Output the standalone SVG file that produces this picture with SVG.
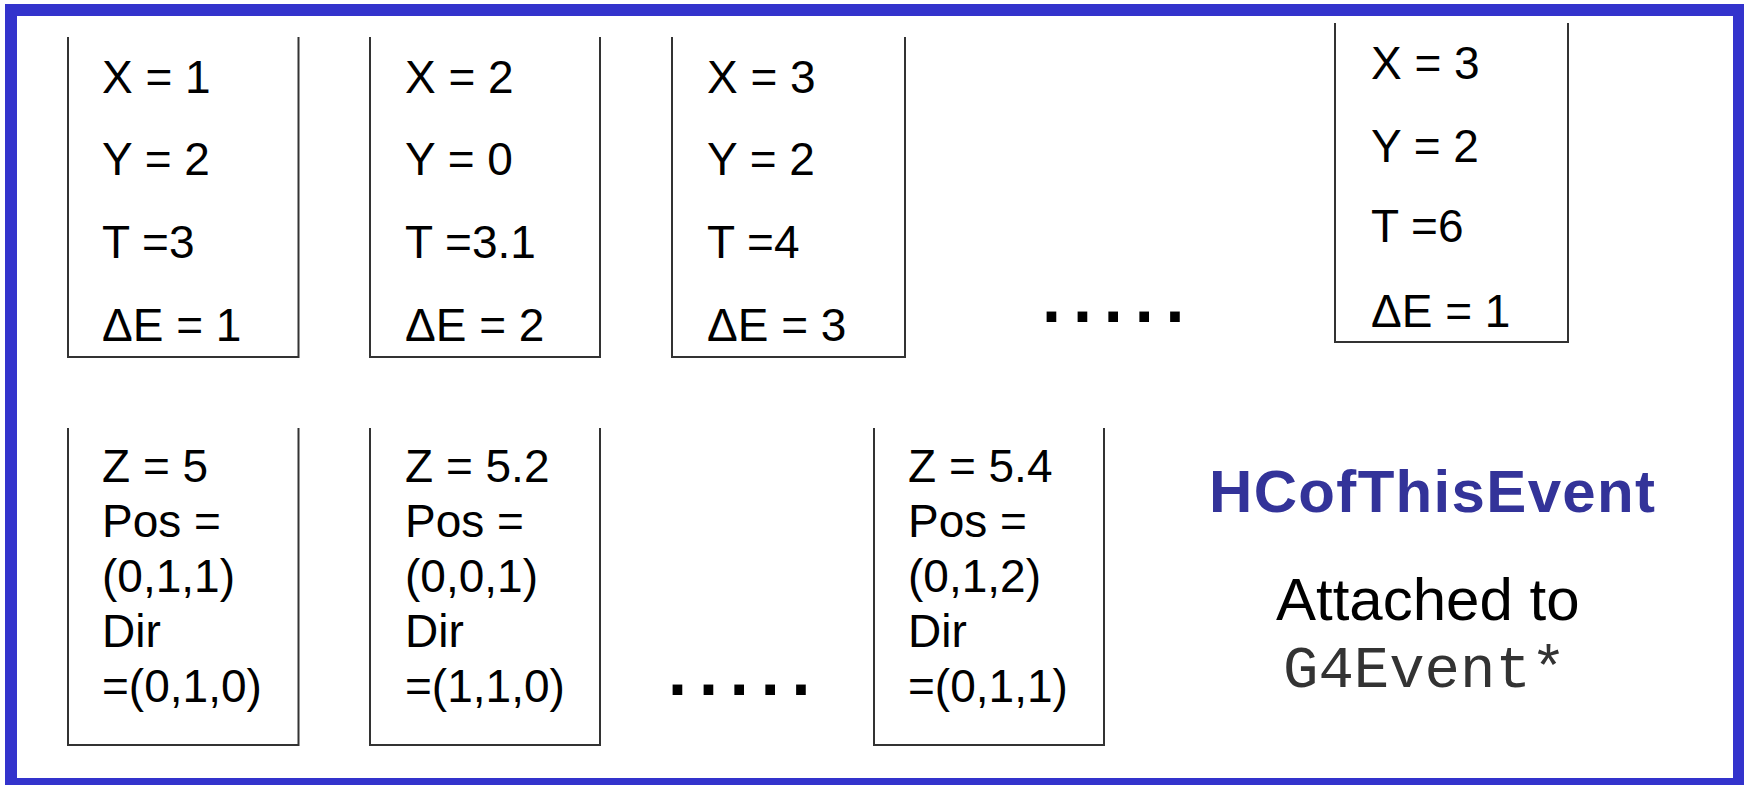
<svg xmlns="http://www.w3.org/2000/svg" width="1744" height="785" viewBox="0 0 1744 785">
<style>
.frame{fill:#ffffff;stroke:#3333cc;stroke-width:12}
.box{fill:none;stroke:#333333;stroke-width:2}
.t{font-family:"Liberation Sans",Arial,sans-serif;font-size:46px;fill:#000}
.dots{font-family:"DejaVu Sans",sans-serif;font-weight:bold;font-size:55px;letter-spacing:10px;fill:#000}
.title{font-family:"Liberation Sans",Arial,sans-serif;font-weight:bold;font-size:60px;fill:#333399}
.att{font-family:"Liberation Sans",Arial,sans-serif;font-size:60px;fill:#000}
.mono{font-family:"Liberation Mono","Courier New",monospace;font-size:59px;fill:#333}
</style>
<rect class="frame" x="11" y="10" width="1728" height="774"/>
<g id="hit1">
<path class="box" d="M68,37 V357 H298.5 V37"/>
<text class="t" x="102" y="93">X = 1</text>
<text class="t" x="102" y="175">Y = 2</text>
<text class="t" x="102" y="258">T =3</text>
<text class="t" x="102" y="341">ΔE = 1</text>
</g>
<g id="hit2">
<path class="box" d="M370,37 V357 H600 V37"/>
<text class="t" x="405" y="93">X = 2</text>
<text class="t" x="405" y="175">Y = 0</text>
<text class="t" x="405" y="258">T =3.1</text>
<text class="t" x="405" y="341">ΔE = 2</text>
</g>
<g id="hit3">
<path class="box" d="M672,37 V357 H905 V37"/>
<text class="t" x="707" y="93">X = 3</text>
<text class="t" x="707" y="175">Y = 2</text>
<text class="t" x="707" y="258">T =4</text>
<text class="t" x="707" y="341">ΔE = 3</text>
</g>
<g id="dots-top"><text class="dots" x="1041" y="322">.....</text></g>
<g id="hit4">
<path class="box" d="M1335,23 V342 H1568 V23"/>
<text class="t" x="1371" y="79">X = 3</text>
<text class="t" x="1371" y="162">Y = 2</text>
<text class="t" x="1371" y="242">T =6</text>
<text class="t" x="1371" y="327">ΔE = 1</text>
</g>
<g id="hit5">
<path class="box" d="M68,428 V745 H298.5 V428"/>
<text class="t" x="102" y="482">Z = 5</text>
<text class="t" x="102" y="537">Pos =</text>
<text class="t" x="102" y="592">(0,1,1)</text>
<text class="t" x="102" y="647">Dir</text>
<text class="t" x="102" y="702">=(0,1,0)</text>
</g>
<g id="hit6">
<path class="box" d="M370,428 V745 H600 V428"/>
<text class="t" x="405" y="482">Z = 5.2</text>
<text class="t" x="405" y="537">Pos =</text>
<text class="t" x="405" y="592">(0,0,1)</text>
<text class="t" x="405" y="647">Dir</text>
<text class="t" x="405" y="702">=(1,1,0)</text>
</g>
<g id="dots-bottom"><text class="dots" x="667" y="695">.....</text></g>
<g id="hit7">
<path class="box" d="M874,428 V745 H1104 V428"/>
<text class="t" x="908" y="482">Z = 5.4</text>
<text class="t" x="908" y="537">Pos =</text>
<text class="t" x="908" y="592">(0,1,2)</text>
<text class="t" x="908" y="647">Dir</text>
<text class="t" x="908" y="702">=(0,1,1)</text>
</g>
<g id="label">
<text class="title" x="1209" y="512" textLength="446">HCofThisEvent</text>
<text class="att" x="1276" y="620">Attached to</text>
<text class="mono" x="1283" y="687">G4Event*</text>
</g>
<g id="connectors"/>
</svg>
